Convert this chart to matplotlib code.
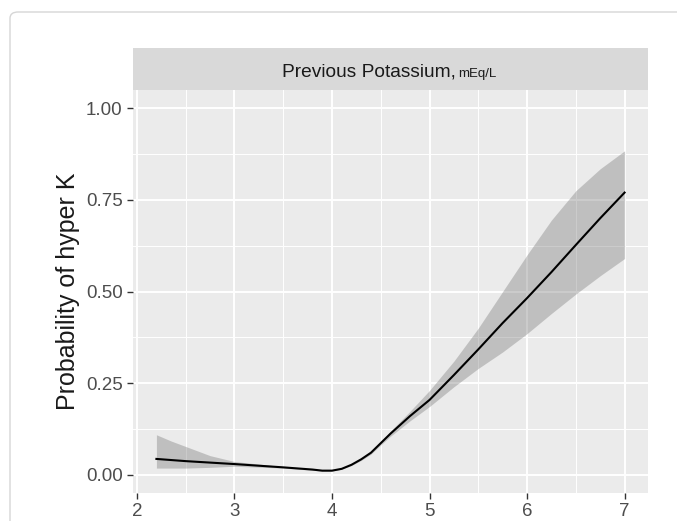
import numpy as np
import matplotlib
matplotlib.use('Agg')
import matplotlib.pyplot as plt
from matplotlib.patches import FancyBboxPatch

plt.rcParams['font.family'] = ['Liberation Sans', 'DejaVu Sans']

# values
potassium = [2.2, 2.35, 2.5, 2.75, 3.0, 3.5, 3.8, 3.9, 4.0, 4.1, 4.2, 4.3, 4.4, 4.5,
             4.6, 4.8, 5.0, 5.25, 5.5, 5.75, 6.0, 6.25, 6.5, 6.75, 7.0]
prob = [0.043, 0.040, 0.037, 0.033, 0.029, 0.020, 0.014, 0.011, 0.011, 0.016, 0.027,
        0.042, 0.060, 0.086, 0.112, 0.160, 0.204, 0.272, 0.342, 0.414, 0.482, 0.553,
        0.627, 0.700, 0.770]
upper = [0.109, 0.092, 0.077, 0.052, 0.036, 0.022, 0.015, 0.012, 0.012, 0.017, 0.029,
         0.045, 0.064, 0.091, 0.119, 0.173, 0.230, 0.310, 0.400, 0.500, 0.600, 0.695,
         0.775, 0.835, 0.884]
lower = [0.018, 0.018, 0.018, 0.020, 0.023, 0.018, 0.012, 0.010, 0.010, 0.015, 0.025,
         0.039, 0.056, 0.081, 0.105, 0.147, 0.186, 0.240, 0.290, 0.335, 0.385, 0.440,
         0.493, 0.543, 0.590]

x_major = [2, 3, 4, 5, 6, 7]
x_minor = [2.5, 3.5, 4.5, 5.5, 6.5]
y_major = [0.0, 0.25, 0.5, 0.75, 1.0]
y_minor = [0.125, 0.375, 0.625, 0.875]
y_labels = ['0.00', '0.25', '0.50', '0.75', '1.00']

W, H = 677, 521
fig = plt.figure(figsize=(W / 100, H / 100), dpi=100)

# card frame
frame = FancyBboxPatch((10 / W, -0.1), 1.2, 1 - 12 / H + 0.1,
                       boxstyle='round,pad=0,rounding_size=0.012',
                       transform=fig.transFigure, facecolor='white',
                       edgecolor='#d6d6d6', linewidth=1.0, zorder=-10)
fig.patches.append(frame)

ax = fig.add_axes([133 / W, (H - 493) / H, (648 - 133) / W, (493 - 90) / H])
ax.set_facecolor('#EBEBEB')
for s in ax.spines.values():
    s.set_visible(False)

ax.set_xlim(1.96, 7.24)
ax.set_ylim(-0.05, 1.05)
ax.set_xticks(x_major)
ax.set_xticks(x_minor, minor=True)
ax.set_yticks(y_major)
ax.set_yticks(y_minor, minor=True)
ax.set_yticklabels(y_labels)
ax.grid(which='major', color='white', linewidth=1.4)
ax.grid(which='minor', color='white', linewidth=0.7)
ax.set_axisbelow(True)
ax.tick_params(which='major', length=4.5, width=1.0, color='#333333',
               labelsize=13.5, labelcolor='#4D4D4D', pad=3)
ax.tick_params(which='minor', length=0)

ax.fill_between(potassium, lower, upper, color='#7f7f7f', alpha=0.4, linewidth=0)
ax.plot(potassium, prob, color='black', linewidth=1.5)

ax.set_ylabel('Probability of hyper K', fontsize=18, color='#1a1a1a', labelpad=4)

# facet strip
sax = fig.add_axes([133 / W, (H - 90) / H, (648 - 133) / W, 42 / H])
sax.set_facecolor('#D9D9D9')
sax.set_xticks([])
sax.set_yticks([])
for s in sax.spines.values():
    s.set_visible(False)
sax.set_xlim(0, 1)
sax.set_ylim(0, 1)

t1 = sax.text(0.5, 0.5, 'Previous Potassium, ', fontsize=13.8, color='#1a1a1a',
              ha='left', va='baseline')
t2 = sax.text(0.5, 0.5, 'mEq/L', fontsize=9.5, color='#1a1a1a', ha='left', va='baseline')
fig.canvas.draw()
r = fig.canvas.get_renderer()
b1 = t1.get_window_extent(r)
b2 = t2.get_window_extent(r)
sb = sax.get_window_extent(r)
total = b1.width + b2.width
start_px = sb.x0 + (sb.width - total) / 2
inv = sax.transAxes.inverted()
base_y = 0.32
x1 = inv.transform((start_px, 0))[0]
x2 = inv.transform((start_px + b1.width - 3, 0))[0]
t1.set_position((x1, base_y))
t2.set_position((x2, base_y))

fig.savefig('out.png', dpi=100)
